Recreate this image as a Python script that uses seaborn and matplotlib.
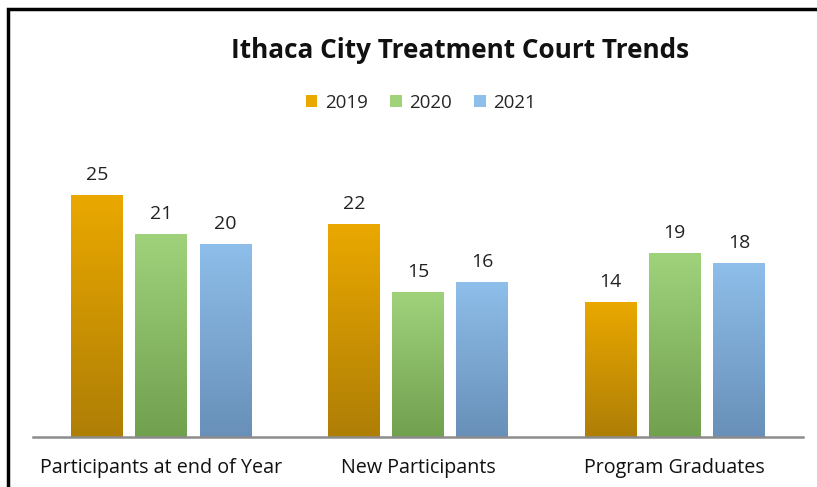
import numpy as np
import pandas as pd
import matplotlib
matplotlib.use("Agg")
import matplotlib.pyplot as plt
import matplotlib.colors as mcolors
import seaborn as sns

# ====== Data ======
categories = ["Participants at end of Year", "New Participants", "Program Graduates"]
years = ["2019", "2020", "2021"]
vals_2019 = [25, 22, 14]
vals_2020 = [21, 15, 19]
vals_2021 = [20, 16, 18]

# top / bottom colours of the gradient fill
top_colors = {"2019": "#EAA800", "2020": "#A0D27C", "2021": "#8EBEEA"}
bot_colors = {"2019": "#AE7E06", "2020": "#71A04E", "2021": "#6890B8"}

df = pd.DataFrame({
    "category": categories * 3,
    "year": [y for y in years for _ in categories],
    "value": vals_2019 + vals_2020 + vals_2021,
})

sns.set_style("white")
plt.rcParams["font.family"] = ["Open Sans", "DejaVu Sans"]

fig = plt.figure(figsize=(8.17, 4.87), dpi=100)
ax = fig.add_axes([33 / 817, 1 - 437 / 487, 770 / 817, 290 / 487])

sns.barplot(data=df, x="category", y="value", hue="year", hue_order=years,
            palette=top_colors, width=0.75, gap=0.19, ax=ax, legend=True)

# ====== Gradient fill on bars ======
grad = np.linspace(0, 1, 256).reshape(-1, 1)
for container, yr in zip(ax.containers, years):
    cmap = mcolors.LinearSegmentedColormap.from_list(
        yr, [bot_colors[yr], top_colors[yr]])
    for bar in container:
        x0, y0 = bar.get_x(), bar.get_y()
        w, h = bar.get_width(), bar.get_height()
        im = ax.imshow(grad, extent=[x0, x0 + w, y0, y0 + h], origin="lower",
                       aspect="auto", cmap=cmap, zorder=bar.get_zorder())
        im.set_clip_path(bar)
        bar.set_alpha(0.0)
    ax.bar_label(container, padding=8, fontsize=14, color="#222222")

ax.set_xlim(-0.5, 2.5)
ax.set_ylim(0, 30)

# ====== Axes styling ======
for side in ["top", "right", "left"]:
    ax.spines[side].set_visible(False)
ax.spines["bottom"].set_color("#8c8c8c")
ax.spines["bottom"].set_linewidth(1.8)
ax.set_yticks([])
ax.set_xlabel("")
ax.set_ylabel("")
ax.tick_params(axis="x", length=0, pad=15, labelsize=14.2, labelcolor="#111111")

# ====== Legend ======
handles = [plt.Rectangle((0, 0), 1, 1, facecolor=top_colors[y],
                         edgecolor="none") for y in years]
ax.legend(handles, years, loc="center", bbox_to_anchor=(421 / 817, 1 - 103 / 487),
          bbox_transform=fig.transFigure, ncol=3, frameon=False, fontsize=13.5,
          handlelength=0.6, handleheight=0.6, handletextpad=0.4, columnspacing=1.2)

# ====== Title ======
fig.text(460 / 817, 1 - 50 / 487, "Ithaca City Treatment Court Trends",
         ha="center", va="center", fontsize=18.8, fontweight="bold", color="#111111")

# ====== Border ======
fig.patches.append(plt.Rectangle((8 / 817, -0.1), 1.2, 1 - 9 / 487 + 0.1,
                                 transform=fig.transFigure, fill=False,
                                 edgecolor="black", linewidth=2.5))

fig.savefig("out.png", dpi=100)
